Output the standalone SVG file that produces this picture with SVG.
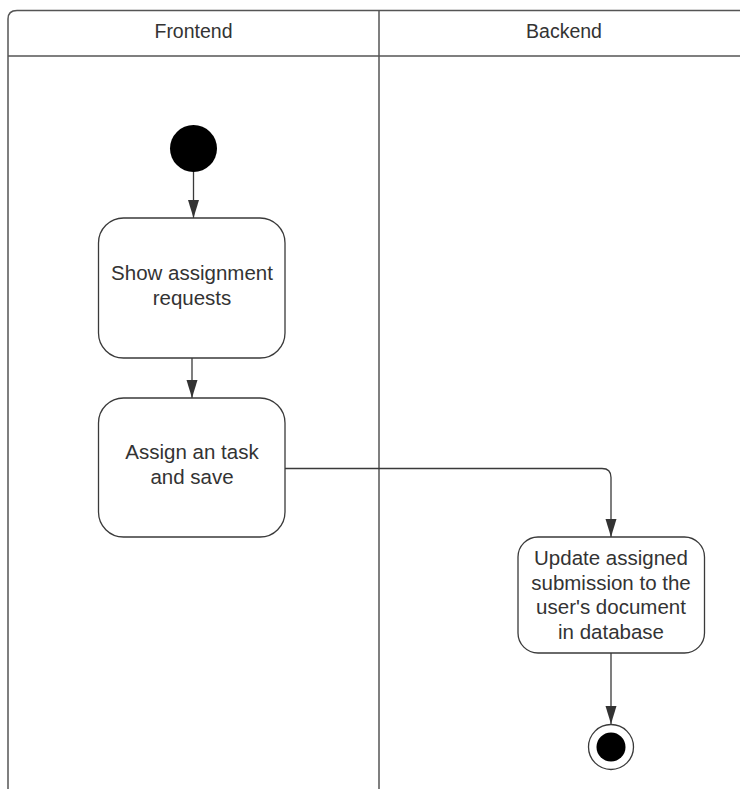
<svg xmlns="http://www.w3.org/2000/svg" width="740" height="789" viewBox="0 0 740 789">
  <style>
    .lane { fill: none; stroke: #555555; stroke-width: 1.5; }
    .node { fill: #ffffff; stroke: #3a3a3a; stroke-width: 1.3; }
    .edge { fill: none; stroke: #3a3a3a; stroke-width: 1.3; }
    .label { font-family: "Liberation Sans", Arial, sans-serif; font-size: 20.5px; fill: #333333; text-anchor: middle; }
    .head { font-size: 19.5px; }
  </style>
  <defs>
    <marker id="arrowhead" markerUnits="userSpaceOnUse" markerWidth="20" markerHeight="14" viewBox="0 0 20 14" refX="18" refY="7" orient="auto">
      <polygon points="0,1.5 18,7 0,12.5" fill="#333333"/>
    </marker>
  </defs>

  <rect width="740" height="789" fill="#ffffff"/>

  <!-- swimlane frame -->
  <g id="lanes">
    <path class="lane" d="M8,795 L8,19 Q8,10.5 17,10.5 L760,10.5"/>
    <line class="lane" x1="8" y1="56" x2="760" y2="56"/>
    <line class="lane" x1="379" y1="10.5" x2="379" y2="795"/>
    <text class="label head" x="193.5" y="38">Frontend</text>
    <text class="label head" x="564" y="38">Backend</text>
  </g>

  <!-- connectors -->
  <g id="connectors">
    <line class="edge" x1="193.5" y1="172" x2="193.5" y2="218" marker-end="url(#arrowhead)"/>
    <line class="edge" x1="192" y1="358" x2="192" y2="398" marker-end="url(#arrowhead)"/>
    <path class="edge" d="M285,468.5 L602,468.5 Q611,468.5 611,477.5 L611,537" marker-end="url(#arrowhead)"/>
    <line class="edge" x1="611" y1="653" x2="611" y2="724" marker-end="url(#arrowhead)"/>
  </g>

  <!-- start -->
  <g id="start">
    <circle cx="193.5" cy="148.5" r="23.5" fill="#000000"/>
  </g>

  <g id="show-requests">
    <rect class="node" x="98.5" y="218" width="186.5" height="140" rx="25" ry="25"/>
    <text class="label" x="192" y="279.5">Show assignment</text>
    <text class="label" x="192" y="304.5">requests</text>
  </g>

  <g id="assign-task">
    <rect class="node" x="98.5" y="398" width="186.5" height="139" rx="25" ry="25"/>
    <text class="label" x="192" y="459">Assign an task</text>
    <text class="label" x="192" y="484">and save</text>
  </g>

  <g id="update-submission">
    <rect class="node" x="518" y="537" width="186.5" height="116" rx="20" ry="20"/>
    <text class="label" x="611" y="565">Update assigned</text>
    <text class="label" x="611" y="589.5">submission to the</text>
    <text class="label" x="611" y="614">user's document</text>
    <text class="label" x="611" y="638.5">in database</text>
  </g>

  <!-- end -->
  <g id="end">
    <circle cx="611" cy="747" r="22.5" fill="#ffffff" stroke="#3a3a3a" stroke-width="1.3"/>
    <circle cx="611" cy="747" r="14.5" fill="#000000"/>
  </g>
</svg>
